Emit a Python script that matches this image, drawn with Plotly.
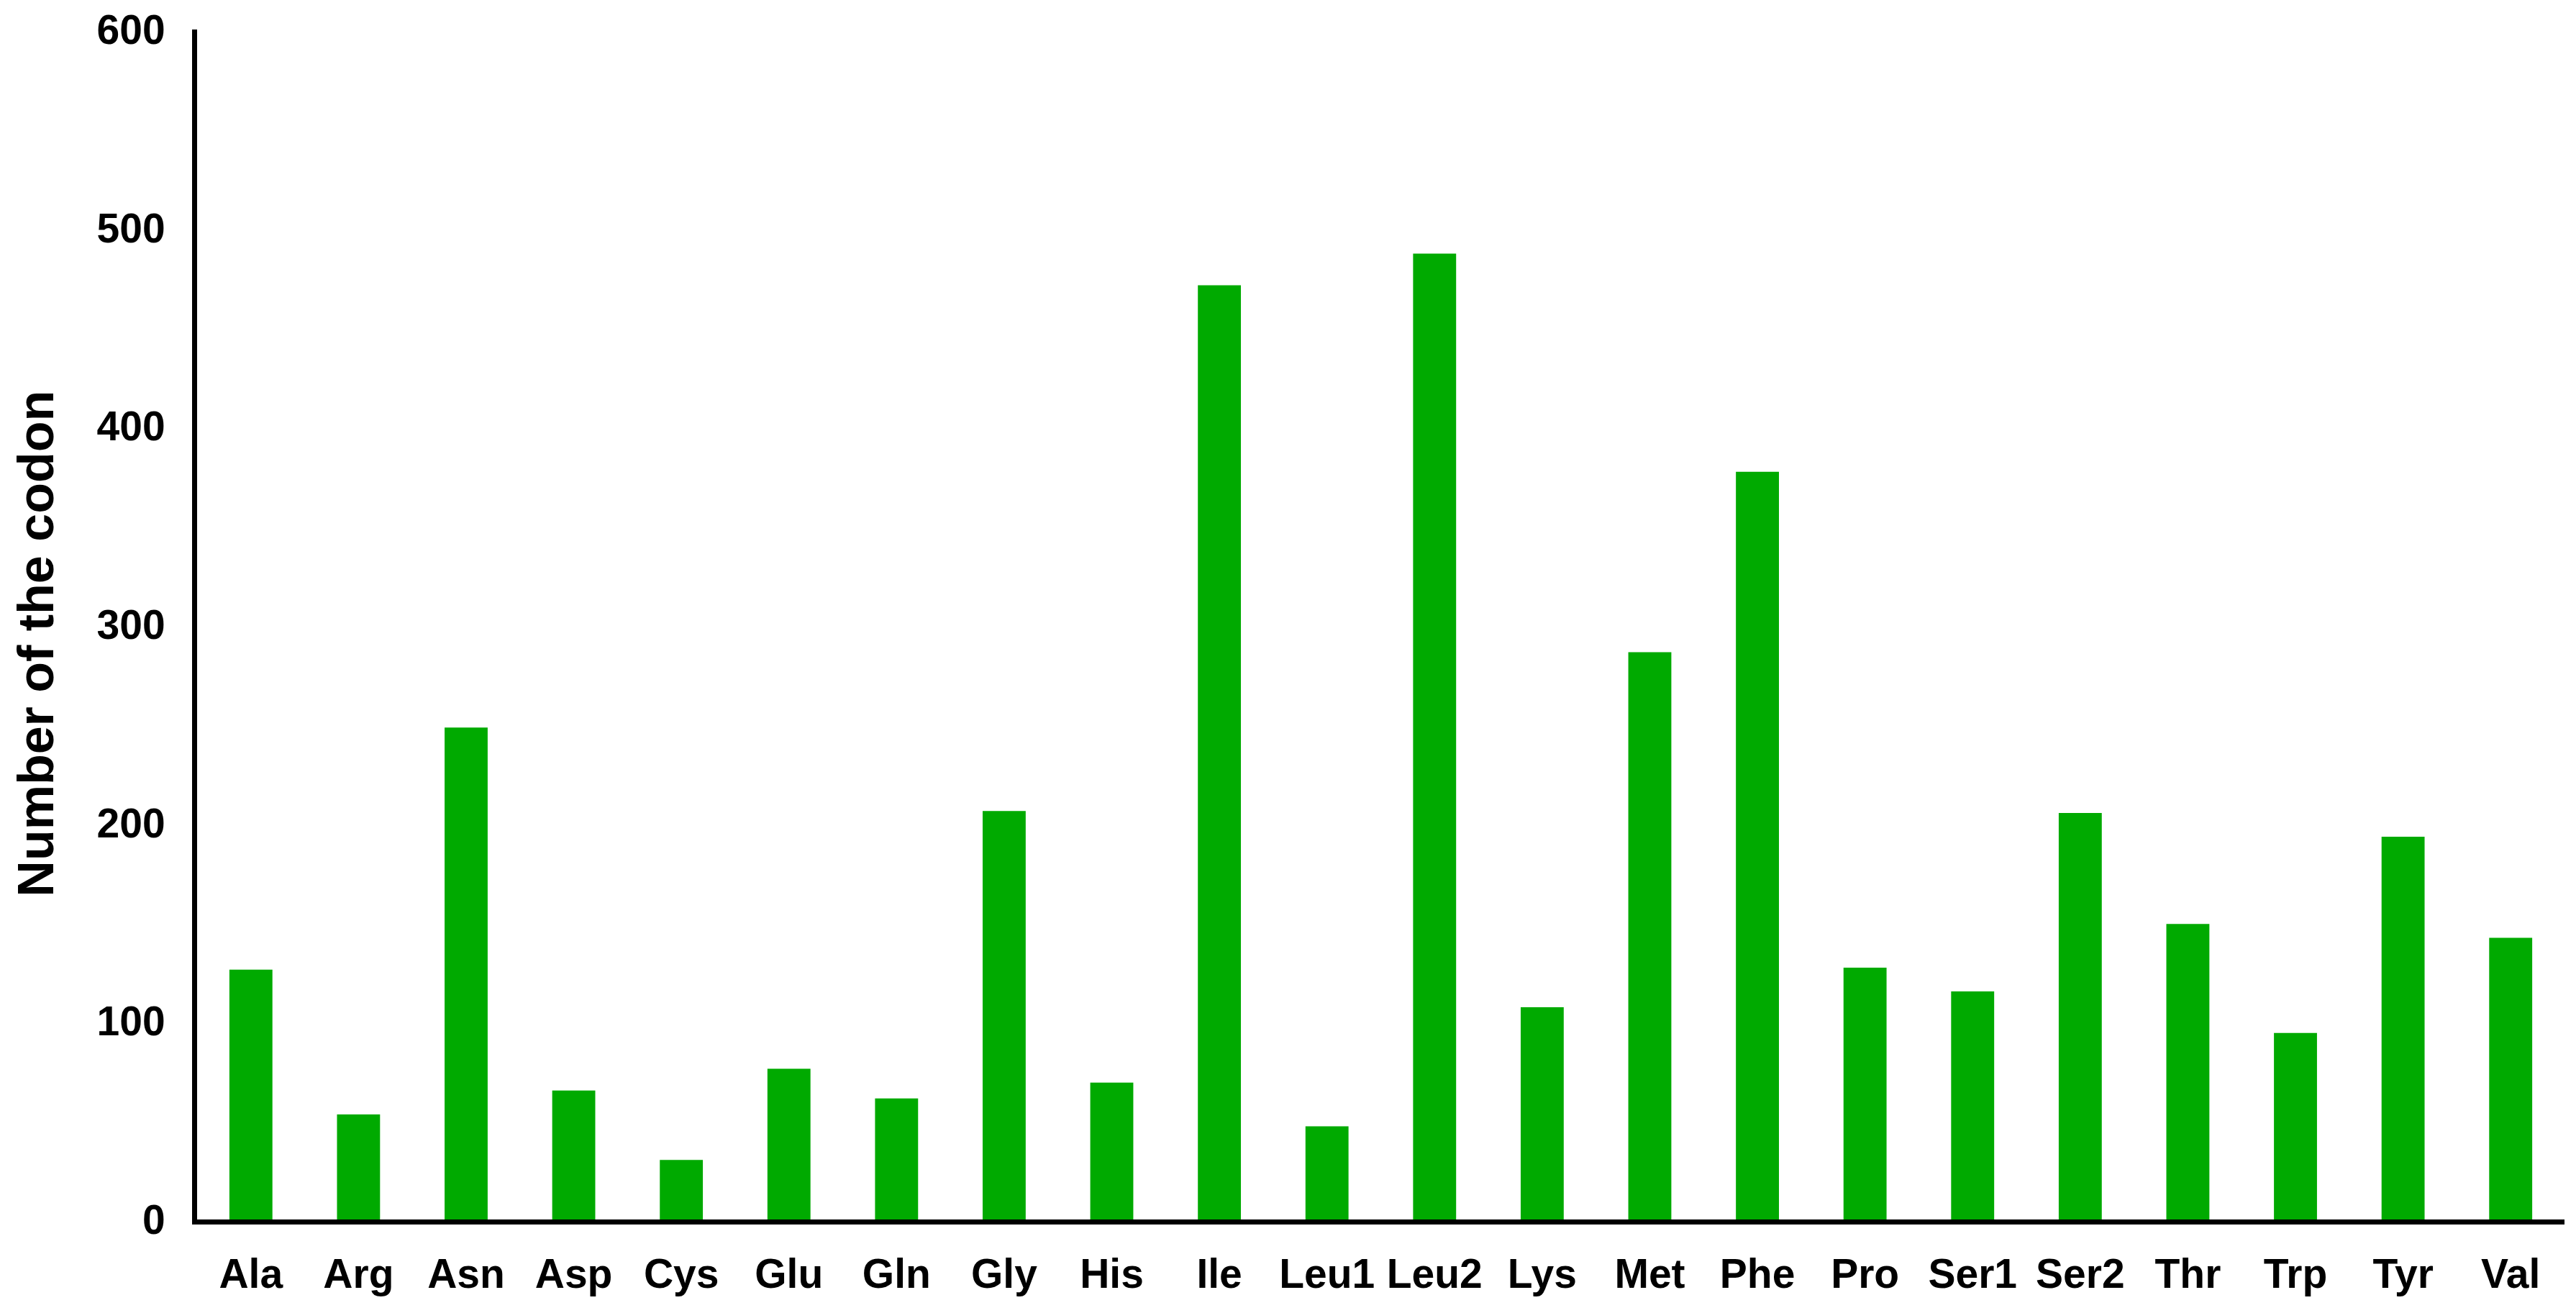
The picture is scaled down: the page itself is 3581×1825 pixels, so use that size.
import plotly.graph_objects as go

categories = ["Ala", "Arg", "Asn", "Asp", "Cys", "Glu", "Gln", "Gly", "His", "Ile", "Leu1",
              "Leu2", "Lys", "Met", "Phe", "Pro", "Ser1", "Ser2", "Thr", "Trp", "Tyr", "Val"]
codon_counts = [126, 53, 248, 65, 30, 76, 61, 206, 69, 471, 47,
                487, 107, 286, 377, 127, 115, 205, 149, 94, 193, 142]
y_tick_values = [0, 100, 200, 300, 400, 500, 600]
y_title = "Number of the codon"

FONT = "Liberation Sans, Arial, sans-serif"

fig = go.Figure(
    go.Bar(
        x=categories,
        y=codon_counts,
        marker=dict(color="#00aa00", line=dict(width=0)),
    )
)

fig.update_layout(
    width=3581,
    height=1825,
    margin=dict(l=266, r=24, t=33, b=138, autoexpand=False),
    paper_bgcolor="white",
    plot_bgcolor="white",
    bargap=0.6,
    showlegend=False,
    font=dict(family=FONT, size=58, color="black"),
    annotations=[
        dict(
            text=y_title,
            xref="paper", yref="paper",
            x=-0.068, y=0.484,
            xanchor="center", yanchor="middle",
            textangle=-90,
            showarrow=False,
            font=dict(family=FONT, size=70, color="black", weight="bold"),
        )
    ],
)

fig.update_xaxes(
    range=[-0.5, 21.5],
    showline=True,
    linecolor="black",
    linewidth=7,
    showgrid=False,
    zeroline=False,
    ticks="",
    ticklabelstandoff=20,
    tickfont=dict(family=FONT, size=57, color="black", weight="bold"),
    automargin=False,
)

fig.update_yaxes(
    range=[0, 600],
    tickvals=y_tick_values,
    showline=True,
    linecolor="black",
    linewidth=7,
    showgrid=False,
    zeroline=False,
    ticks="",
    ticklabelstandoff=26,
    tickfont=dict(family=FONT, size=57, color="black", weight="bold"),
    automargin=False,
)

fig.write_html("out.html")
